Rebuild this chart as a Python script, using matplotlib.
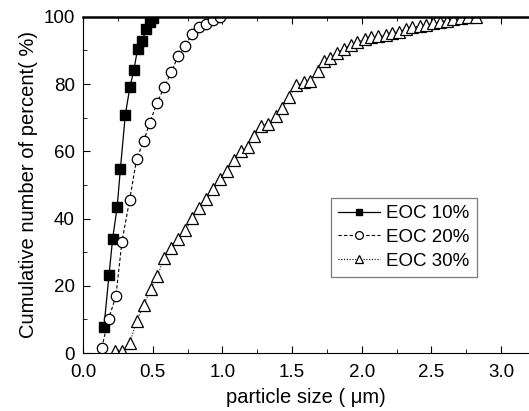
#cumulative particle size distribution for three EOC contents
import numpy as np
import matplotlib.pyplot as plt
from matplotlib.ticker import MultipleLocator

plt.rcParams['font.family'] = ['Liberation Sans', 'DejaVu Sans']

# EOC 10%
size_10 = [0.15, 0.186, 0.212, 0.245, 0.268, 0.303, 0.336, 0.365, 0.391, 0.424, 0.455, 0.479, 0.503]
cum_10 = [7.8, 23.1, 33.9, 43.5, 54.8, 70.8, 79.1, 84.2, 90.4, 92.9, 96.4, 98.6, 99.8]

# EOC 20%
size_20 = [0.134, 0.184, 0.236, 0.279, 0.334, 0.384, 0.436, 0.479, 0.532, 0.582,
           0.634, 0.682, 0.730, 0.782, 0.832, 0.880, 0.932, 0.985]
cum_20 = [1.6, 10.2, 17.0, 33.1, 45.5, 57.6, 63.2, 68.5, 74.5, 79.1,
          83.6, 88.4, 91.2, 94.9, 97.1, 97.9, 99.1, 100.0]

# EOC 30%
size_30 = [0.23, 0.28, 0.336, 0.384, 0.436, 0.484, 0.534, 0.582, 0.634, 0.682,
           0.734, 0.785, 0.832, 0.884, 0.932, 0.985, 1.03, 1.08, 1.13, 1.183,
           1.23, 1.278, 1.33, 1.381, 1.43, 1.481, 1.528, 1.583, 1.631, 1.683,
           1.731, 1.774, 1.82, 1.869, 1.922, 1.969, 2.022, 2.069, 2.12, 2.172,
           2.22, 2.267, 2.315, 2.363, 2.415, 2.463, 2.513, 2.56, 2.613, 2.656,
           2.71, 2.76, 2.82]
cum_30 = [0.5, 0.6, 3.0, 9.6, 14.3, 19.0, 22.9, 28.4, 31.3, 33.8,
          36.6, 40.1, 43.2, 45.7, 48.7, 51.7, 54.2, 57.4, 60.2, 61.4,
          64.7, 67.6, 68.0, 70.6, 73.0, 76.1, 79.6, 80.5, 80.8, 83.9,
          87.0, 87.7, 89.2, 90.4, 91.7, 92.6, 93.3, 93.9, 94.3, 94.6,
          95.3, 95.6, 96.3, 96.9, 97.3, 97.6, 98.1, 98.6, 98.9, 99.3,
          99.6, 99.9, 100.0]


def create_plot():
    fig = plt.figure(figsize=(5.29, 4.11), dpi=100)
    ax = fig.add_axes([0.157, 0.141, 0.843, 0.818])

    ax.plot(size_10, cum_10, '-', color='k', lw=0.9, marker='s', ms=6.5,
            mfc='k', mec='k', label='EOC 10%')
    ax.plot(size_20, cum_20, color='k', lw=0.8, ls=(0, (3, 2)), marker='o', ms=7.5,
            mfc='white', mec='k', mew=0.9, label='EOC 20%')
    ax.plot(size_30, cum_30, color='k', lw=0.8, ls=(0, (1, 1.5)), marker='^', ms=8,
            mfc='white', mec='k', mew=0.9, label='EOC 30%')

    ax.set_xlim(0, 3.2)
    ax.set_ylim(0, 100)
    ax.xaxis.set_major_locator(MultipleLocator(0.5))
    ax.xaxis.set_minor_locator(MultipleLocator(0.25))
    ax.yaxis.set_major_locator(MultipleLocator(20))
    ax.yaxis.set_minor_locator(MultipleLocator(10))
    ax.set_xticks(np.arange(0, 3.01, 0.5))
    ax.set_xticklabels(['0.0', '0.5', '1.0', '1.5', '2.0', '2.5', '3.0'])
    ax.tick_params(which='both', direction='in', top=True, labelsize=13.5)
    ax.tick_params(axis='x', pad=8)
    ax.tick_params(axis='y', pad=6)
    ax.tick_params(which='major', length=5)
    ax.tick_params(which='minor', length=3)

    ax.spines['right'].set_visible(False)
    ax.spines['top'].set_linewidth(1.8)

    ax.set_xlabel('particle size ( μm)', fontsize=14.5, labelpad=5)
    ax.set_ylabel('Cumulative number of percent( %)', fontsize=14.5, labelpad=4)

    leg = ax.legend(loc='lower left', bbox_to_anchor=(0.556, 0.226), fontsize=13.5,
                    fancybox=False, edgecolor='0.35', handlelength=2.2,
                    handletextpad=0.35, borderpad=0.4, labelspacing=0.35,
                    borderaxespad=0, markerscale=0.75)
    leg.get_frame().set_linewidth(0.9)

    fig.savefig('out.png', dpi=100)


if __name__ == '__main__':
    create_plot()
